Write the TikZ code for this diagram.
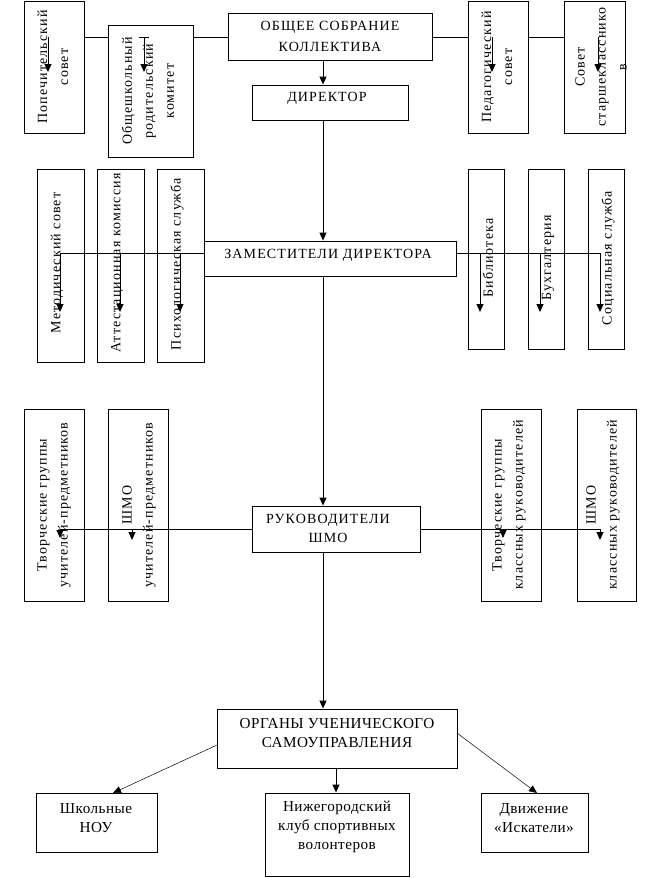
\documentclass[tikz,border=0pt]{standalone}
\usepackage{fontspec}
\setmainfont{Liberation Serif}
\newfontfamily\tfA[LetterSpace=8]{Liberation Serif}
\newfontfamily\tfB[LetterSpace=3]{Liberation Serif}
\usetikzlibrary{arrows.meta}
\newcommand\bx[5]{\node[boxst, minimum width={(#4-#2)*1pt}, minimum height={(#5-#3)*1pt}] (#1) at ({(#2+#4)/2},{(#3+#5)/2}) {};}
\begin{document}
\begin{tikzpicture}[x=1pt,y=-1pt,
  boxst/.style={draw, line width=0.9pt, fill=white, inner sep=0pt},
  ln/.style={line width=0.9pt},
  arr/.style={line width=0.9pt,-{Triangle[width=7pt,length=8pt]}},
  darr/.style={line width=0.5pt,-{Triangle[width=7pt,length=8pt]}},
  vt/.style={rotate=90, align=center, font=\tfA\fontsize{14}{21}\selectfont, inner sep=0pt},
  ht/.style={align=center, font=\tfA\fontsize{14}{21}\selectfont, inner sep=0pt},
  bt/.style={align=center, font=\tfB\fontsize{15.2}{19}\selectfont, inner sep=0pt}]
\useasboundingbox[fill=white] (0,0) rectangle (649,878);
% boxes
\bx{pop}{24}{1}{84}{133}
\bx{obsh}{108}{25}{193}{157}
\bx{ob}{228}{13}{432}{60}
\bx{ped}{468}{1}{528}{133}
\bx{sovst}{564}{1}{625}{133}
\bx{dir}{252}{85}{408}{120}
\bx{met}{37}{169}{84}{362}
\bx{att}{97}{169}{144}{362}
\bx{psy}{157}{169}{204}{362}
\bx{zam}{204}{241}{456}{276}
\bx{bib}{468}{169}{504}{349}
\bx{bux}{528}{169}{564}{349}
\bx{soc}{588}{169}{624}{349}
\bx{tga}{24}{409}{84}{601}
\bx{shmoa}{108}{409}{168}{601}
\bx{ruk}{252}{506}{420}{552}
\bx{tgb}{481}{409}{541}{601}
\bx{shmob}{577}{409}{636}{601}
\bx{org}{217}{709}{457}{768}
\bx{nou}{36}{793}{157}{852}
\bx{nij}{265}{793}{409}{876}
\bx{dv}{481}{793}{588}{852}
% texts
\node[vt] (tpop) at (53,67) {Попечительский\\совет};
\node[vt] (tobsh) at (148,91) {Общешкольный\\родительский\\комитет};
\node[ht] (tob) at (330,36) {ОБЩЕЕ СОБРАНИЕ\\КОЛЛЕКТИВА};
\node[vt] (tped) at (497,67) {Педагогический\\совет};
\node[vt] (tsovst) at (601,67) {Совет\\старшекласснико\\в};
\node[ht] (tdir) at (327,98) {ДИРЕКТОР};
\node[vt] (tmet) at (57,263) {Методический совет};
\node[vt] (tatt) at (117,263) {Аттестационная комиссия};
\node[vt] (tpsy) at (177,264) {Психологическая служба};
\node[ht] (tzam) at (328,255) {ЗАМЕСТИТЕЛИ ДИРЕКТОРА};
\node[vt] (tbib) at (488,258) {Библиотека};
\node[vt] (tbux) at (548,258) {Бухгалтерия};
\node[vt] (tsoc) at (608,258) {Социальная служба};
\node[vt] (ttga) at (54,505) {Творческие группы\\учителей-предметников};
\node[vt] (tshmoa) at (139,505) {ШМО\\учителей-предметников};
\node[vt] (ttgb) at (509,505) {Творческие группы\\классных руководителей};
\node[vt] (tshmob) at (603,505) {ШМО\\классных руководителей};
\node[ht, font=\tfA\fontsize{14}{19}\selectfont] (truk) at (328,528) {РУКОВОДИТЕЛИ\\ШМО};
\node[bt] (torg) at (337,733) {ОРГАНЫ УЧЕНИЧЕСКОГО\\САМОУПРАВЛЕНИЯ};
\node[bt] (tnou) at (96,818) {Школьные\\НОУ};
\node[bt] (tnij) at (337,827) {Нижегородский\\клуб спортивных\\волонтеров};
\node[bt] (tdv) at (534,818) {Движение\\«Искатели»};
% top row connectors
\coordinate (h) at (0,37);
\draw[ln] (pop.east |- h) -- (obsh.west |- h);
\draw[ln] (obsh.east |- h) -- (ob.west |- h);
\draw[ln] (ob.east |- h) -- (ped.west |- h);
\draw[ln] (ped.east |- h) -- (sovst.west |- h);
\foreach \n/\x in {p1/48, p2/144, p3/492, p4/598}{
  \coordinate (\n s) at (\x,37);
  \coordinate (\n e) at (\x,72);
  \draw[arr] (\n s) -- (\n e);
}
\draw[ln] (139,37) -- (149,37);
% spine
\coordinate (sp) at (323,0);
\draw[arr] (ob.south -| sp) -- (dir.north -| sp);
\draw[arr] (dir.south -| sp) -- (zam.north -| sp);
\draw[arr] (zam.south -| sp) -- (ruk.north -| sp);
\draw[arr] (ruk.south -| sp) -- (org.north -| sp);
% deputies
\coordinate (za) at (60,253);
\coordinate (zb) at (600,253);
\draw[ln] (zam.west |- za) -- (za);
\draw[ln] (zam.east |- zb) -- (zb);
\foreach \n/\x in {q1/60, q2/120, q3/180, q4/480, q5/540, q6/600}{
  \coordinate (\n s) at (\x,253);
  \coordinate (\n e) at (\x,312);
  \draw[arr] (\n s) -- (\n e);
}
% heads of SHMO
\coordinate (ra) at (60,529);
\coordinate (rb) at (600,529);
\draw[ln] (ruk.west |- ra) -- (ra);
\draw[ln] (ruk.east |- rb) -- (rb);
\foreach \n/\x/\y in {r1/60/538, r2/132/540, r3/503/538, r4/600/540}{
  \coordinate (\n s) at (\x,529);
  \coordinate (\n e) at (\x,\y);
  \draw[arr] (\n s) -- (\n e);
}
% student bodies
\coordinate (oa) at (217,745);
\coordinate (ob2) at (457,733);
\coordinate (na) at (113,793);
\coordinate (da) at (537,793);
\coordinate (mid) at (336,0);
\draw[darr] (oa) -- (na);
\draw[darr] (ob2) -- (da);
\draw[arr] (org.south -| mid) -- (nij.north -| mid);
\end{tikzpicture}
\end{document}
